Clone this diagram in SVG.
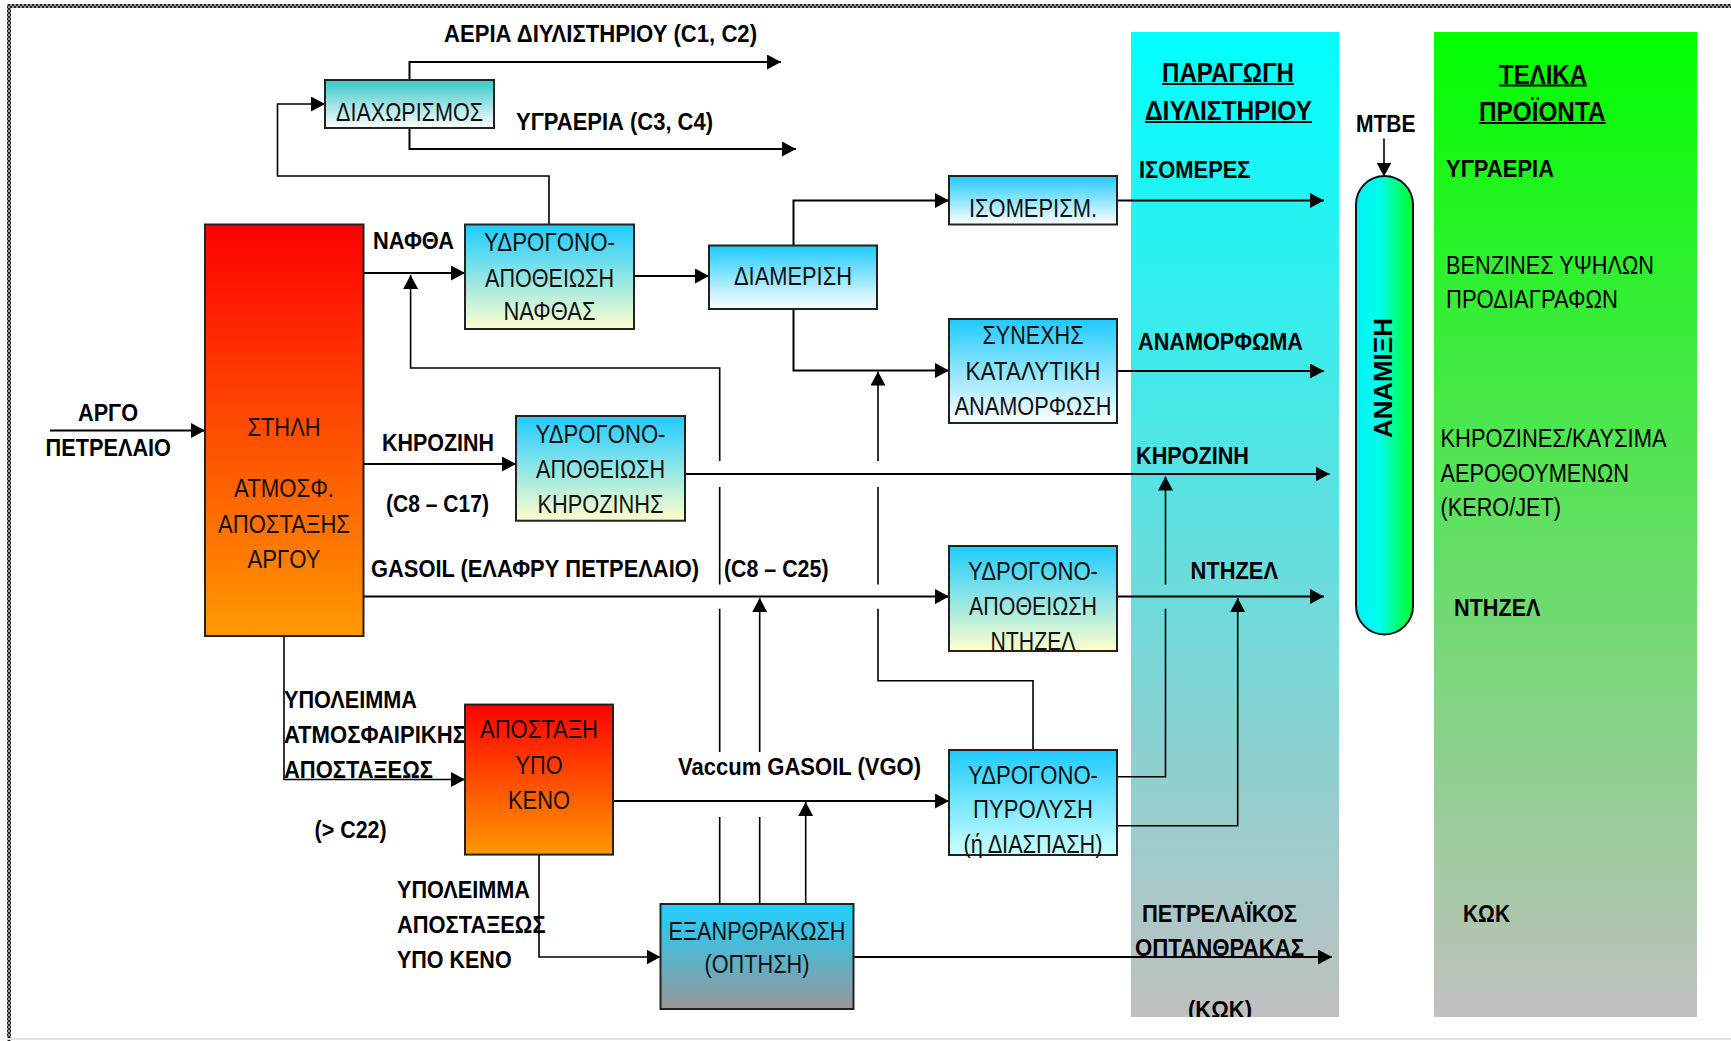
<svg xmlns="http://www.w3.org/2000/svg" width="1731" height="1041" viewBox="0 0 1731 1041">
<style>
.lb{font-family:"Liberation Sans Narrow","Liberation Sans",Arial,sans-serif;font-weight:bold;font-size:24px;fill:#000}
.tt{font-family:"Liberation Sans Narrow","Liberation Sans",Arial,sans-serif;font-weight:bold;font-size:27px;fill:#000}
.nm{font-family:"Liberation Sans Narrow","Liberation Sans",Arial,sans-serif;font-size:26px;fill:#000}
.bx{font-family:"Liberation Sans Narrow","Liberation Sans",Arial,sans-serif;font-size:26px;fill:#111;text-anchor:middle}
.box{stroke:#222;stroke-width:2}
.cn{fill:none;stroke:#000;stroke-width:2}
.cn.th{stroke-width:1.6}
.ul{stroke:#000;stroke-width:2.2}
</style>
<defs>
<marker id="ah" viewBox="0 0 14 15" markerWidth="14" markerHeight="15" refX="14" refY="7.5" orient="auto" markerUnits="userSpaceOnUse">
<path d="M0,0 L14,7.5 L0,15 z" fill="#000"/>
</marker>
<pattern id="chk" width="4" height="4" patternUnits="userSpaceOnUse">
<rect width="4" height="4" fill="#9a9a9a"/>
<rect width="2" height="2" fill="#222"/>
<rect x="2" y="2" width="2" height="2" fill="#222"/>
</pattern>
<linearGradient id="gCol" x1="0" y1="0" x2="0" y2="1"><stop offset="0" stop-color="#FF0000"/><stop offset="1" stop-color="#FF9900"/></linearGradient>
<linearGradient id="gHdt" x1="0" y1="0" x2="0" y2="1"><stop offset="0" stop-color="#1ECBFF"/><stop offset="1" stop-color="#FFFFCC"/></linearGradient>
<linearGradient id="gBW" x1="0" y1="0" x2="0" y2="1"><stop offset="0" stop-color="#1ECBFF"/><stop offset="1" stop-color="#FFFFFF"/></linearGradient>
<linearGradient id="gTeal" x1="0" y1="0" x2="0" y2="1"><stop offset="0" stop-color="#38C6C6"/><stop offset="1" stop-color="#FFFFFF"/></linearGradient>
<linearGradient id="gHc" x1="0" y1="0" x2="0" y2="1"><stop offset="0" stop-color="#1ECBFF"/><stop offset="1" stop-color="#CCFFFF"/></linearGradient>
<linearGradient id="gCoke" x1="0" y1="0" x2="0" y2="1"><stop offset="0" stop-color="#1ECFFF"/><stop offset="1" stop-color="#969696"/></linearGradient>
<linearGradient id="gCyan" x1="0" y1="0" x2="0" y2="1"><stop offset="0" stop-color="#00FFFF"/><stop offset="1" stop-color="#C0C0C0"/></linearGradient>
<linearGradient id="gGreen" x1="0" y1="0" x2="0" y2="1"><stop offset="0" stop-color="#00FF00"/><stop offset="1" stop-color="#C0C0C0"/></linearGradient>
<linearGradient id="gMix" x1="0" y1="0" x2="1" y2="0"><stop offset="0" stop-color="#00F0F0"/><stop offset="0.4" stop-color="#00FFF0"/><stop offset="1" stop-color="#00FF22"/></linearGradient>
<clipPath id="clipBand"><rect x="0" y="0" width="1731" height="1017"/></clipPath>
</defs>

<rect width="1731" height="1041" fill="#FFFFFF"/>
<g id="page-border">
<rect x="7" y="4" width="1724" height="4" fill="url(#chk)"/>
<rect x="7" y="4" width="4" height="1037" fill="url(#chk)"/>
<rect x="7" y="1038" width="1724" height="2" fill="#e2e2e2"/>
</g>

<g id="band-production">
<rect x="1131" y="32" width="208" height="985" fill="url(#gCyan)"/>
<text class="tt" x="1162" y="81.5" textLength="132" lengthAdjust="spacingAndGlyphs">ΠΑΡΑΓΩΓΗ</text>
<line class="ul" x1="1162" y1="84" x2="1294" y2="84"/>
<text class="tt" x="1145" y="119.5" textLength="167" lengthAdjust="spacingAndGlyphs">ΔΙΥΛΙΣΤΗΡΙΟΥ</text>
<line class="ul" x1="1145" y1="122" x2="1312" y2="122"/>
<text class="lb" x="1139" y="178" textLength="111.5" lengthAdjust="spacingAndGlyphs">ΙΣΟΜΕΡΕΣ</text>
<text class="lb" x="1138" y="349.5" textLength="165" lengthAdjust="spacingAndGlyphs">ΑΝΑΜΟΡΦΩΜΑ</text>
<text class="lb" x="1136" y="463.5" textLength="113" lengthAdjust="spacingAndGlyphs">ΚΗΡΟΖΙΝΗ</text>
<text class="lb" x="1190.5" y="579" textLength="87.5" lengthAdjust="spacingAndGlyphs">ΝΤΗΖΕΛ</text>
<text class="lb" x="1142" y="922" textLength="155" lengthAdjust="spacingAndGlyphs">ΠΕΤΡΕΛΑΪΚΟΣ</text>
<text class="lb" x="1135" y="956" textLength="169" lengthAdjust="spacingAndGlyphs">ΟΠΤΑΝΘΡΑΚΑΣ</text>
<text class="lb" x="1188" y="1018" textLength="64" lengthAdjust="spacingAndGlyphs" clip-path="url(#clipBand)">(ΚΩΚ)</text>
</g>

<g id="band-products">
<rect x="1434" y="32" width="263" height="985" fill="url(#gGreen)"/>
<text class="tt" x="1499" y="83.5" textLength="88" lengthAdjust="spacingAndGlyphs">ΤΕΛΙΚΑ</text>
<line class="ul" x1="1499" y1="85.5" x2="1587" y2="85.5"/>
<text class="tt" x="1479" y="120.5" textLength="126.5" lengthAdjust="spacingAndGlyphs">ΠΡΟΪΟΝΤΑ</text>
<line class="ul" x1="1479" y1="123" x2="1605.5" y2="123"/>
<text class="lb" x="1446" y="177" textLength="108" lengthAdjust="spacingAndGlyphs">ΥΓΡΑΕΡΙΑ</text>
<text class="nm" x="1446" y="273.5" textLength="208" lengthAdjust="spacingAndGlyphs">ΒΕΝΖΙΝΕΣ ΥΨΗΛΩΝ</text>
<text class="nm" x="1446" y="308" textLength="172" lengthAdjust="spacingAndGlyphs">ΠΡΟΔΙΑΓΡΑΦΩΝ</text>
<text class="nm" x="1440.5" y="446.5" textLength="226" lengthAdjust="spacingAndGlyphs">ΚΗΡΟΖΙΝΕΣ/ΚΑΥΣΙΜΑ</text>
<text class="nm" x="1440.5" y="481.5" textLength="188.5" lengthAdjust="spacingAndGlyphs">ΑΕΡΟΘΟΥΜΕΝΩΝ</text>
<text class="nm" x="1440.5" y="516" textLength="120.5" lengthAdjust="spacingAndGlyphs">(KERO/JET)</text>
<text class="lb" x="1454" y="616" textLength="86.5" lengthAdjust="spacingAndGlyphs">ΝΤΗΖΕΛ</text>
<text class="lb" x="1463" y="922" textLength="47" lengthAdjust="spacingAndGlyphs">ΚΩΚ</text>
</g>

<g id="connectors">
<path class="cn" d="M409.5,80 V62 H781" marker-end="url(#ah)"/>
<path class="cn" d="M409.5,128 V149 H796" marker-end="url(#ah)"/>
<path class="cn th" d="M549,224.5 V176 H277.5 V104 H325" marker-end="url(#ah)"/>
<path class="cn" d="M50,430.5 H205" marker-end="url(#ah)"/>
<path class="cn" d="M363.5,273 H465" marker-end="url(#ah)"/>
<path class="cn th" d="M719.7,904 V817 M719.7,752 V608.7 M719.7,584.5 V487 M719.7,461 V368 H410.6 V275" marker-end="url(#ah)"/>
<path class="cn" d="M634,276 H709" marker-end="url(#ah)"/>
<path class="cn" d="M793.5,245.5 V200.5 H949" marker-end="url(#ah)"/>
<path class="cn" d="M793.5,309 V370.5 H949" marker-end="url(#ah)"/>
<path class="cn th" d="M1033,750 V680.7 H878 V608.7 M878,584.5 V487 M878,461 V371.5" marker-end="url(#ah)"/>
<path class="cn" d="M1117,200.5 H1324" marker-end="url(#ah)"/>
<path class="cn" d="M1117,371 H1324" marker-end="url(#ah)"/>
<path class="cn" d="M363.5,464 H516" marker-end="url(#ah)"/>
<path class="cn" d="M685,474 H1329.5" marker-end="url(#ah)"/>
<path class="cn" d="M363.5,596.6 H949" marker-end="url(#ah)"/>
<path class="cn" d="M1117,596.6 H1324" marker-end="url(#ah)"/>
<path class="cn th" d="M759.7,904 V817 M759.7,752 V598" marker-end="url(#ah)"/>
<path class="cn th" d="M805.7,904 V802" marker-end="url(#ah)"/>
<path class="cn th" d="M284,636 V779.5 H465" marker-end="url(#ah)"/>
<path class="cn" d="M613,801 H949" marker-end="url(#ah)"/>
<path class="cn th" d="M1117,776.7 H1165.5 V608.7 M1165.5,584.5 V476.5" marker-end="url(#ah)"/>
<path class="cn th" d="M1117,825.7 H1237.7 V598" marker-end="url(#ah)"/>
<path class="cn th" d="M539,854.7 V957 H660.5" marker-end="url(#ah)"/>
<path class="cn" d="M853.5,957 H1332" marker-end="url(#ah)"/>
<path class="cn th" d="M1384,138.6 V176.5" marker-end="url(#ah)"/>
</g>

<g id="labels">
<text class="lb" x="444" y="42" textLength="313" lengthAdjust="spacingAndGlyphs">ΑΕΡΙΑ ΔΙΥΛΙΣΤΗΡΙΟΥ (C1, C2)</text>
<text class="lb" x="516" y="129.5" textLength="197" lengthAdjust="spacingAndGlyphs">ΥΓΡΑΕΡΙΑ (C3, C4)</text>
<text class="lb" x="373" y="249" textLength="81" lengthAdjust="spacingAndGlyphs">ΝΑΦΘΑ</text>
<text class="lb" x="78" y="420.5" textLength="60" lengthAdjust="spacingAndGlyphs">ΑΡΓΟ</text>
<text class="lb" x="45.5" y="455.5" textLength="125.5" lengthAdjust="spacingAndGlyphs">ΠΕΤΡΕΛΑΙΟ</text>
<text class="lb" x="382" y="450.5" textLength="112" lengthAdjust="spacingAndGlyphs">ΚΗΡΟΖΙΝΗ</text>
<text class="lb" x="386" y="511.5" textLength="103" lengthAdjust="spacingAndGlyphs">(C8 – C17)</text>
<text class="lb" x="371" y="577" textLength="328" lengthAdjust="spacingAndGlyphs">GASOIL (ΕΛΑΦΡΥ ΠΕΤΡΕΛΑΙΟ)</text>
<text class="lb" x="724" y="577" textLength="104.5" lengthAdjust="spacingAndGlyphs">(C8 – C25)</text>
<text class="lb" x="284" y="708" textLength="133" lengthAdjust="spacingAndGlyphs">ΥΠΟΛΕΙΜΜΑ</text>
<text class="lb" x="284" y="743" textLength="182" lengthAdjust="spacingAndGlyphs">ΑΤΜΟΣΦΑΙΡΙΚΗΣ</text>
<text class="lb" x="284" y="778" textLength="149" lengthAdjust="spacingAndGlyphs">ΑΠΟΣΤΑΞΕΩΣ</text>
<text class="lb" x="314.6" y="838" textLength="72" lengthAdjust="spacingAndGlyphs">(&gt; C22)</text>
<text class="lb" x="678" y="775" textLength="243" lengthAdjust="spacingAndGlyphs">Vaccum GASOIL (VGO)</text>
<text class="lb" x="397" y="898" textLength="133" lengthAdjust="spacingAndGlyphs">ΥΠΟΛΕΙΜΜΑ</text>
<text class="lb" x="397" y="933" textLength="148.5" lengthAdjust="spacingAndGlyphs">ΑΠΟΣΤΑΞΕΩΣ</text>
<text class="lb" x="397" y="968" textLength="114.6" lengthAdjust="spacingAndGlyphs">ΥΠΟ ΚΕΝΟ</text>
<text class="lb" x="1356" y="132" textLength="59.5" lengthAdjust="spacingAndGlyphs">ΜΤΒΕ</text>
</g>

<g id="node-separation">
<rect class="box" x="325" y="80" width="169" height="48" fill="url(#gTeal)"/>
<text class="bx" x="409.5" y="121" textLength="147" lengthAdjust="spacingAndGlyphs">ΔΙΑΧΩΡΙΣΜΟΣ</text>
</g>

<g id="node-column">
<rect class="box" x="205" y="224.5" width="158.5" height="411.5" fill="url(#gCol)"/>
<text class="bx" x="284" y="435.5" textLength="73" lengthAdjust="spacingAndGlyphs">ΣΤΗΛΗ</text>
<text class="bx" x="284" y="497" textLength="100" lengthAdjust="spacingAndGlyphs">ΑΤΜΟΣΦ.</text>
<text class="bx" x="284" y="533" textLength="132" lengthAdjust="spacingAndGlyphs">ΑΠΟΣΤΑΞΗΣ</text>
<text class="bx" x="284" y="567.5" textLength="73" lengthAdjust="spacingAndGlyphs">ΑΡΓΟΥ</text>
</g>

<g id="node-naphtha-hdt">
<rect class="box" x="465" y="224.5" width="169" height="104.5" fill="url(#gHdt)"/>
<text class="bx" x="549.5" y="250.5" textLength="131" lengthAdjust="spacingAndGlyphs">ΥΔΡΟΓΟΝΟ-</text>
<text class="bx" x="549.5" y="287" textLength="129" lengthAdjust="spacingAndGlyphs">ΑΠΟΘΕΙΩΣΗ</text>
<text class="bx" x="549.5" y="320" textLength="92" lengthAdjust="spacingAndGlyphs">ΝΑΦΘΑΣ</text>
</g>

<g id="node-splitter">
<rect class="box" x="709" y="245.5" width="168" height="63.5" fill="url(#gBW)"/>
<text class="bx" x="793" y="285" textLength="118" lengthAdjust="spacingAndGlyphs">ΔΙΑΜΕΡΙΣΗ</text>
</g>

<g id="node-isomerisation">
<rect class="box" x="949" y="176" width="168" height="48.5" fill="url(#gBW)"/>
<text class="bx" x="1033" y="217" textLength="128" lengthAdjust="spacingAndGlyphs">ΙΣΟΜΕΡΙΣΜ.</text>
</g>

<g id="node-reforming">
<rect class="box" x="949" y="319" width="168" height="104" fill="url(#gBW)"/>
<text class="bx" x="1033" y="343.5" textLength="101" lengthAdjust="spacingAndGlyphs">ΣΥΝΕΧΗΣ</text>
<text class="bx" x="1033" y="380" textLength="135" lengthAdjust="spacingAndGlyphs">ΚΑΤΑΛΥΤΙΚΗ</text>
<text class="bx" x="1033" y="415" textLength="157" lengthAdjust="spacingAndGlyphs">ΑΝΑΜΟΡΦΩΣΗ</text>
</g>

<g id="node-kero-hdt">
<rect class="box" x="516" y="416" width="169" height="104.7" fill="url(#gHdt)"/>
<text class="bx" x="600.5" y="443" textLength="130" lengthAdjust="spacingAndGlyphs">ΥΔΡΟΓΟΝΟ-</text>
<text class="bx" x="600.5" y="478" textLength="129" lengthAdjust="spacingAndGlyphs">ΑΠΟΘΕΙΩΣΗ</text>
<text class="bx" x="600.5" y="513" textLength="126" lengthAdjust="spacingAndGlyphs">ΚΗΡΟΖΙΝΗΣ</text>
</g>

<g id="node-diesel-hdt">
<rect class="box" x="949" y="546" width="168" height="105" fill="url(#gHdt)"/>
<text class="bx" x="1033" y="580" textLength="130" lengthAdjust="spacingAndGlyphs">ΥΔΡΟΓΟΝΟ-</text>
<text class="bx" x="1033" y="615" textLength="128" lengthAdjust="spacingAndGlyphs">ΑΠΟΘΕΙΩΣΗ</text>
<text class="bx" x="1033" y="650" textLength="85" lengthAdjust="spacingAndGlyphs">ΝΤΗΖΕΛ</text>
</g>

<g id="node-vacuum">
<rect class="box" x="465" y="704.6" width="148" height="150" fill="url(#gCol)"/>
<text class="bx" x="539" y="738" textLength="118" lengthAdjust="spacingAndGlyphs">ΑΠΟΣΤΑΞΗ</text>
<text class="bx" x="539" y="774" textLength="47" lengthAdjust="spacingAndGlyphs">ΥΠΟ</text>
<text class="bx" x="539" y="809" textLength="62" lengthAdjust="spacingAndGlyphs">ΚΕΝΟ</text>
</g>

<g id="node-hydrocracking">
<rect class="box" x="949" y="750" width="168" height="105" fill="url(#gHc)"/>
<text class="bx" x="1033" y="783.5" textLength="130" lengthAdjust="spacingAndGlyphs">ΥΔΡΟΓΟΝΟ-</text>
<text class="bx" x="1033" y="818" textLength="120" lengthAdjust="spacingAndGlyphs">ΠΥΡΟΛΥΣΗ</text>
<text class="bx" x="1033" y="853" textLength="139" lengthAdjust="spacingAndGlyphs">(ή ΔΙΑΣΠΑΣΗ)</text>
</g>

<g id="node-coker">
<rect class="box" x="660.5" y="904" width="193" height="105" fill="url(#gCoke)"/>
<text class="bx" x="757" y="940" textLength="177" lengthAdjust="spacingAndGlyphs">ΕΞΑΝΡΘΡΑΚΩΣΗ</text>
<text class="bx" x="757" y="973" textLength="105" lengthAdjust="spacingAndGlyphs">(ΟΠΤΗΣΗ)</text>
</g>

<g id="node-mixing">
<rect x="1356" y="176" width="57" height="458.5" rx="28.5" ry="28.5" fill="url(#gMix)" stroke="#111" stroke-width="2"/>
<text transform="translate(1391.5,378) rotate(-90)" text-anchor="middle" font-family="'Liberation Sans',Arial,sans-serif" font-weight="bold" font-size="25" textLength="120" lengthAdjust="spacingAndGlyphs">ΑΝΑΜΙΞΗ</text>
</g>
</svg>
